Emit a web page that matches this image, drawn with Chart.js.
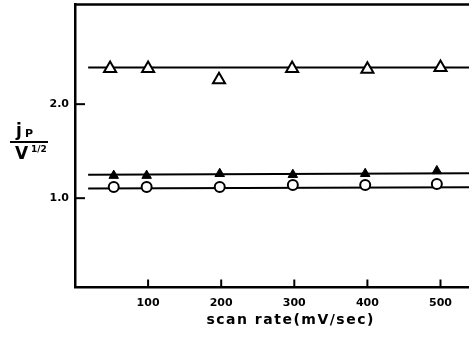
<!DOCTYPE html>
<html>
<head>
<meta charset="utf-8">
<script src="https://cdn.jsdelivr.net/npm/chart.js@4/dist/chart.umd.min.js"></script>
<style>
  html, body { margin: 0; padding: 0; background: #fff; }
  #wrap { width: 469px; height: 337px; position: relative; }
</style>
</head>
<body>
<div id="wrap"><canvas id="chart"></canvas></div>
<script>
// scan rate (mV/sec) vs ip / V^1/2
const openTriX = [48, 100, 197, 297, 400, 500]
const openTriY = [2.38, 2.38, 2.26, 2.38, 2.37, 2.39]
const filledTriX = [53, 98, 198, 298, 397, 495]
const filledTriY = [1.24, 1.24, 1.26, 1.25, 1.26, 1.29]
const circleX = [53, 98, 198, 298, 397, 495]
const circleY = [1.12, 1.12, 1.12, 1.14, 1.14, 1.15]

// fitted lines (start / end)
const fitX = [18, 539]
const openTriFit = [2.39, 2.39]
const filledTriFit = [1.248, 1.265]
const circleFit = [1.102, 1.117]

const xTicks = [100, 200, 300, 400, 500]
const yTicks = [1.0, 2.0]
const xTitle = 'scan rate(mV/sec)'

const INK = '#000'
const tickFont = { family: 'DejaVu Sans', weight: 'bold', size: 11 }

const pts = (xs, ys) => xs.map((x, i) => ({ x, y: ys[i] }))

function fitLine (ys) {
  return {
    data: pts(fitX, ys),
    showLine: true,
    borderColor: INK,
    borderWidth: 2,
    pointRadius: 0,
    order: 2
  }
}

function noPad (s) {
  s.paddingTop = 0
  s.paddingBottom = 0
  s.paddingLeft = 0
  s.paddingRight = 0
}

// inward tick marks, top frame line, axis title and y label fraction
const decor = {
  id: 'decor',
  afterDraw (chart) {
    const { ctx, chartArea: a, scales: { x, y } } = chart
    ctx.save()
    ctx.strokeStyle = INK
    ctx.fillStyle = INK
    ctx.lineWidth = 2.5
    ctx.beginPath()
    ctx.moveTo(a.left - 1, a.top)
    ctx.lineTo(a.right, a.top)
    ctx.stroke()

    ctx.lineWidth = 2
    xTicks.forEach(v => {
      const px = x.getPixelForValue(v)
      ctx.beginPath()
      ctx.moveTo(px, a.bottom)
      ctx.lineTo(px, a.bottom - 8)
      ctx.stroke()
    })
    yTicks.forEach(v => {
      const py = y.getPixelForValue(v)
      ctx.beginPath()
      ctx.moveTo(a.left, py)
      ctx.lineTo(a.left + 10, py)
      ctx.stroke()
    })

    ctx.font = 'bold 14px "DejaVu Sans"'
    ctx.letterSpacing = '1.5px'
    ctx.textAlign = 'center'
    ctx.textBaseline = 'middle'
    ctx.fillText(xTitle, x.getPixelForValue(295), 320)
    ctx.letterSpacing = '0px'

    // j_P / V^(1/2)
    ctx.textAlign = 'left'
    ctx.textBaseline = 'alphabetic'
    ctx.font = 'bold 17px "DejaVu Sans"'
    ctx.fillText('j', 16, 136)
    ctx.font = 'bold 11px "DejaVu Sans"'
    ctx.fillText('P', 25, 137)
    ctx.lineWidth = 2
    ctx.beginPath()
    ctx.moveTo(10, 142)
    ctx.lineTo(48, 142)
    ctx.stroke()
    ctx.font = 'bold 17px "DejaVu Sans"'
    ctx.fillText('V', 15, 159)
    ctx.font = 'bold 9px "DejaVu Sans"'
    ctx.fillText('1/2', 31, 152)
    ctx.restore()
  }
}

new Chart(document.getElementById('chart'), {
  type: 'scatter',
  data: {
    datasets: [
      {
        data: pts(openTriX, openTriY),
        pointStyle: 'triangle',
        pointRadius: 7,
        pointBackgroundColor: '#fff',
        pointBorderColor: INK,
        pointBorderWidth: 2,
        order: 1
      },
      {
        data: pts(filledTriX, filledTriY),
        pointStyle: 'triangle',
        pointRadius: 5.5,
        pointBackgroundColor: INK,
        pointBorderColor: INK,
        pointBorderWidth: 1,
        order: 1
      },
      {
        data: pts(circleX, circleY),
        pointStyle: 'circle',
        pointRadius: 5,
        pointBackgroundColor: '#fff',
        pointBorderColor: INK,
        pointBorderWidth: 2,
        order: 0
      },
      fitLine(openTriFit),
      fitLine(filledTriFit),
      fitLine(circleFit)
    ]
  },
  options: {
    responsive: true,
    maintainAspectRatio: false,
    animation: false,
    layout: { autoPadding: false, padding: { top: 4.5, right: 0, left: 0, bottom: 0 } },
    plugins: { legend: { display: false }, tooltip: { enabled: false } },
    scales: {
      x: {
        type: 'linear',
        min: 0,
        max: 539,
        afterBuildTicks: s => { s.ticks = xTicks.map(value => ({ value })) },
        afterFit: s => { s.height = 49.5; noPad(s) },
        grid: { display: true, drawOnChartArea: false, drawTicks: false },
        border: { display: true, color: INK, width: 2.5 },
        ticks: { color: INK, font: tickFont, padding: 9, maxRotation: 0 }
      },
      y: {
        type: 'linear',
        min: 0.05,
        max: 3.06,
        afterBuildTicks: s => { s.ticks = yTicks.map(value => ({ value })) },
        afterFit: s => { s.width = 75; noPad(s) },
        grid: { display: true, drawOnChartArea: false, drawTicks: false },
        border: { display: true, color: INK, width: 2.5 },
        ticks: { color: INK, font: tickFont, padding: 6, callback: v => v.toFixed(1) }
      }
    }
  },
  plugins: [decor]
})
</script>
</body>
</html>
